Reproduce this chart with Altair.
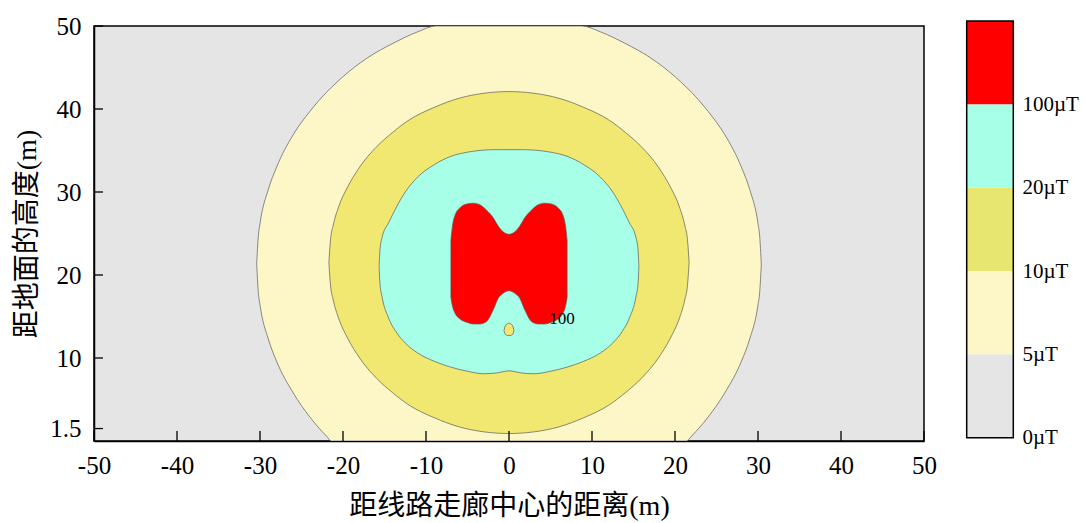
import json
import altair as alt
import pandas as pd

# ---- axis ticks -------------------------------------------------------------
X_TICKS = [-50, -40, -30, -20, -10, 0, 10, 20, 30, 40, 50]
Y_TICKS = [1.5, 10, 20, 30, 40, 50]

# ---- contour bands (x, lower edge, upper edge) ------------------------------
# 5 uT contour (clipped by the plot frame at top and bottom)
B5_X = [-30.4, -30.2, -30.0, -29.0, -28.0, -26.0, -24.0, -22.0, -21.4, -20.0, -17.0,
        -14.0, -11.0, -8.8, -4.0, 0.0, 4.0, 8.8, 11.0, 14.0, 17.0, 20.0, 21.4, 22.0,
        24.0, 26.0, 28.0, 29.0, 30.0, 30.2, 30.4]
B5_HI = [21.3, 24.7, 26.2, 30.3, 33.0, 36.9, 39.7, 42.0, 42.6, 43.9, 46.2,
         47.9, 49.3, 50.0, 50.0, 50.0, 50.0, 50.0, 49.3, 47.9, 46.2, 43.9, 42.6, 42.0,
         39.7, 36.9, 33.0, 30.3, 26.2, 24.7, 21.3]
B5_LO = [21.3, 17.9, 16.4, 12.3, 9.6, 5.8, 2.9, 0.6, 0.0, 0.0, 0.0,
         0.0, 0.0, 0.0, 0.0, 0.0, 0.0, 0.0, 0.0, 0.0, 0.0, 0.0, 0.0, 0.6,
         2.9, 5.8, 9.6, 12.3, 16.4, 17.9, 21.3]

# 10 uT contour
B10_X = [-21.7, -21.5, -21.2, -20.5, -19.5, -18.0, -16.0, -14.0, -12.0, -9.0, -6.0, -3.0,
         0.0, 3.0, 6.0, 9.0, 12.0, 14.0, 16.0, 18.0, 19.5, 20.5, 21.2, 21.5, 21.7]
B10_HI = [21.5, 24.3, 25.9, 28.3, 30.5, 33.0, 35.4, 37.2, 38.7, 40.2, 41.3, 41.9,
          42.1, 41.9, 41.3, 40.2, 38.7, 37.2, 35.4, 33.0, 30.5, 28.3, 25.9, 24.3, 21.5]
B10_LO = [21.5, 18.7, 17.1, 14.7, 12.5, 10.0, 7.6, 5.8, 4.3, 2.8, 1.7, 1.1,
          0.9, 1.1, 1.7, 2.8, 4.3, 5.8, 7.6, 10.0, 12.5, 14.7, 17.1, 18.7, 21.5]

# 20 uT contour
B20_X = [-15.65, -15.55, -15.3, -14.5, -13.5, -12.5, -11.0, -9.0, -7.0, -5.0, -3.0, -1.5,
         0.0, 1.5, 3.0, 5.0, 7.0, 9.0, 11.0, 12.5, 13.5, 14.5, 15.3, 15.55, 15.65]
B20_HI = [21.0, 23.0, 24.5, 26.3, 28.3, 30.0, 31.8, 33.3, 34.3, 34.8, 35.05, 35.1,
          35.1, 35.1, 35.05, 34.8, 34.3, 33.3, 31.8, 30.0, 28.3, 26.3, 24.5, 23.0, 21.0]
B20_LO = [21.0, 19.0, 17.4, 14.8, 13.0, 11.8, 10.6, 9.6, 8.9, 8.4, 8.1, 8.2,
          8.45, 8.2, 8.1, 8.4, 8.9, 9.6, 10.6, 11.8, 13.0, 14.8, 17.4, 19.0, 21.0]

# 100 uT contour (two-lobed core)
B100_X = [-7.0, -6.8, -6.5, -5.9, -5.1, -4.3, -3.5, -2.7, -1.9, -1.3, -0.7,
          0.0, 0.7, 1.3, 1.9, 2.7, 3.5, 4.3, 5.1, 5.9, 6.5, 6.8, 7.0]
B100_HI = [24.2, 26.0, 27.2, 28.1, 28.55, 28.65, 28.45, 27.8, 26.9, 25.9, 25.2,
           24.9, 25.2, 25.9, 26.9, 27.8, 28.45, 28.65, 28.55, 28.1, 27.2, 26.0, 24.2]
B100_LO = [17.3, 16.2, 15.4, 14.7, 14.3, 14.1, 14.1, 14.4, 15.8, 17.2, 17.8,
           18.1, 17.8, 17.2, 15.8, 14.4, 14.1, 14.1, 14.3, 14.7, 15.4, 16.2, 17.3]

# small closed contour below the core
ISLE_X = [-0.6, -0.45, -0.2, 0.0, 0.2, 0.45, 0.6]
ISLE_HI = [13.3, 13.85, 14.12, 14.2, 14.12, 13.85, 13.3]
ISLE_LO = [13.3, 12.85, 12.72, 12.7, 12.72, 12.85, 13.3]

# contour label
LABEL_X = [6.4]
LABEL_Y = [14.7]
LABEL_T = ["100"]

# ---- colour bar -------------------------------------------------------------
CB_COLORS = ["#e5e5e5", "#fdf6c7", "#e6e670", "#a6ffe6", "#ff0000"]
CB_LABELS = ["0µT", "5µT", "10µT", "20µT", "100µT"]

FILL_5 = "#fdf6c7"
FILL_10 = "#f0e870"
FILL_20 = "#a6ffe6"
FILL_100 = "#ff0000"
FILL_ISLE = "#f2e576"
BG = "#e5e5e5"
LINE = "#5a5a5a"

SERIF = "Liberation Serif"
TITLE_FONT = "Liberation Serif, Noto Sans CJK SC"

W, H = 830, 415

X_AXIS = dict(
    values=X_TICKS, ticks=False, grid=False,
    labelExpr="datum.value + ''", labelFlush=False, labelPadding=12,
    labelFont=SERIF, labelFontSize=25, labelColor="black",
    domainColor="black", domainWidth=1.5,
    title="距线路走廊中心的距离(m)", titleFont=TITLE_FONT, titleFontSize=28,
    titleFontWeight="normal", titleColor="black", titlePadding=14,
)


def xenc(field):
    # every layer carries the same x axis definition so the shared axis survives
    return alt.X(field, scale=alt.Scale(domain=[-50, 50], nice=False, zero=False),
                 axis=alt.Axis(**X_AXIS))


def ys():
    return alt.Scale(domain=[0, 50], nice=False, zero=False)


def band(xv, lo, hi, fill):
    df = pd.DataFrame({"x": xv, "lo": lo, "hi": hi})
    return alt.Chart(df).mark_area(
        fill=fill, stroke=LINE, strokeWidth=0.7, interpolate="monotone", clip=True
    ).encode(
        x=xenc("x:Q"),
        y=alt.Y("lo:Q", scale=ys(), axis=None),
        y2="hi:Q",
    )


y_axis = alt.Axis(
    orient="left", values=Y_TICKS, ticks=False, grid=False,
    labelExpr="datum.value + ''", labelFlush=False, labelPadding=13,
    labelFont=SERIF, labelFontSize=25, labelColor="black",
    domainColor="black", domainWidth=1.5,
    title="距地面的高度(m)", titleFont=TITLE_FONT, titleFontSize=28,
    titleFontWeight="normal", titleColor="black", titlePadding=8,
)

# inward tick marks
x_ticks = alt.Chart(pd.DataFrame({"v": X_TICKS})).mark_rule(
    color="black", strokeWidth=1.3
).encode(
    x=xenc("v:Q"),
    y=alt.value(H - 10),
    y2=alt.value(H),
)
y_ticks = alt.Chart(pd.DataFrame({"v": Y_TICKS})).mark_rule(
    color="black", strokeWidth=1.3
).encode(
    y=alt.Y("v:Q", scale=ys(), axis=y_axis),
    x=alt.value(0),
    x2=alt.value(9),
)

label = alt.Chart(pd.DataFrame({"x": LABEL_X, "y": LABEL_Y, "t": LABEL_T})).mark_text(
    font=SERIF, fontSize=17, color="black"
).encode(
    x=xenc("x:Q"),
    y=alt.Y("y:Q", scale=ys(), axis=None),
    text="t:N",
)

# colour bar to the right of the plot
cb_df = pd.DataFrame({
    "lo": list(range(len(CB_COLORS))),
    "hi": [i + 1 for i in range(len(CB_COLORS))],
    "color": CB_COLORS,
})


def cbs():
    return alt.Scale(domain=[0, len(CB_COLORS)], range=[411.7, -5], nice=False, zero=False)


cb_expr = json.dumps(CB_LABELS, ensure_ascii=False) + "[datum.value]"
cb_axis = alt.Axis(
    orient="right", offset=89, values=list(range(len(CB_LABELS))),
    labelExpr=cb_expr, ticks=False, domain=False, grid=False,
    labelPadding=9, labelFont=SERIF, labelFontSize=21, labelColor="black",
    labelBaseline="middle", labelFlush=False, labelOverlap=False, title=None,
)
cb_x0, cb_x1 = W + 42.7, W + 89.3
cb_bands = alt.Chart(cb_df).mark_rect().encode(
    x=alt.value(cb_x0),
    x2=alt.value(cb_x1),
    y=alt.Y("lo:Q", scale=cbs(), axis=cb_axis),
    y2="hi:Q",
    fill=alt.Color("color:N", scale=None),
)
cb_frame = alt.Chart(pd.DataFrame({"lo": [0], "hi": [len(CB_COLORS)]})).mark_rect(
    fillOpacity=0, stroke="black", strokeWidth=1.5
).encode(
    x=alt.value(cb_x0),
    x2=alt.value(cb_x1),
    y=alt.Y("lo:Q", scale=cbs(), axis=None),
    y2="hi:Q",
)

chart = alt.layer(
    band(B5_X, B5_LO, B5_HI, FILL_5),
    band(B10_X, B10_LO, B10_HI, FILL_10),
    band(B20_X, B20_LO, B20_HI, FILL_20),
    band(B100_X, B100_LO, B100_HI, FILL_100),
    band(ISLE_X, ISLE_LO, ISLE_HI, FILL_ISLE),
    label,
    x_ticks,
    y_ticks,
    cb_bands,
    cb_frame,
).resolve_scale(y="independent").properties(
    width=W,
    height=H,
    autosize="none",
    padding={"left": 94, "top": 26, "right": 162, "bottom": 82},
    background="white",
).configure_view(
    fill=BG, stroke="black", strokeWidth=1.5
)

chart.save("out.html", embed_options={"renderer": "svg", "actions": False})
